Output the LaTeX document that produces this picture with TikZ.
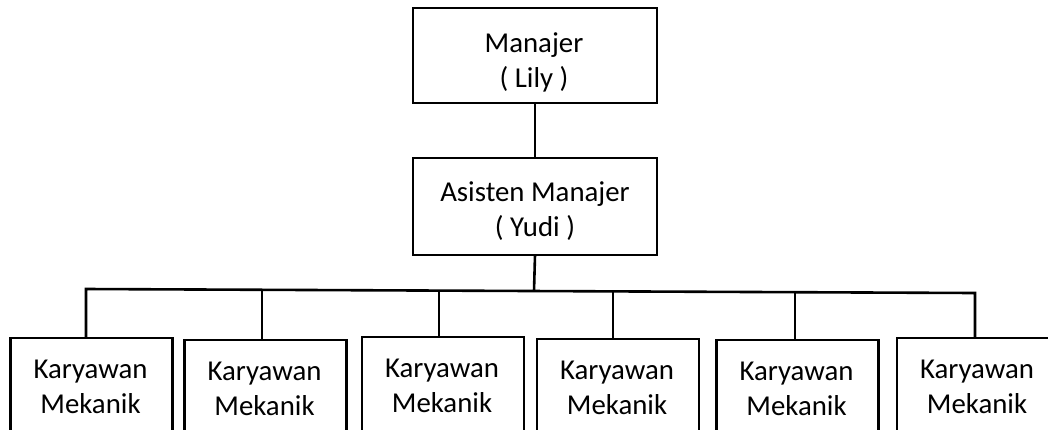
\documentclass[tikz,border=0pt]{standalone}
\usepackage{fontspec}
\setmainfont{Carlito}
\usetikzlibrary{calc}
\begin{document}
\begin{tikzpicture}[x=1pt,y=-1pt,
  box/.style={draw, line width=2.6pt, outer sep=0pt, inner sep=0pt, anchor=north},
  topbox/.style={box, minimum width=244pt},
  staffbox/.style={box, minimum width=162pt, minimum height=100pt},
  txt/.style={align=center, inner sep=0pt, anchor=north, font=\fontsize{28.8}{35}\selectfont},
  conn/.style={line width=2.6pt, line join=miter}]
\clip (0,0) rectangle (1048,429);
% boxes
\node[topbox, minimum height=95pt] (m) at (535,8) {};
\node[topbox, minimum height=97pt] (a) at (535,158) {};
\node[staffbox] (k1) at (91.5,338) {};
\node[staffbox] (k2) at (265.5,340) {};
\node[staffbox] (k3) at (443,337) {};
\node[staffbox] (k4) at (618,339) {};
\node[staffbox] (k5) at (797.5,340) {};
\node[staffbox] (k6) at (978,338) {};
% texts
\node[txt] (tm) at ($(m.north)+(-1,24)$) {Manajer\\( Lily )};
\node[txt] (ta) at ($(a.north)+(0,23)$) {Asisten Manajer\\( Yudi )};
\foreach \i in {1,...,6}{
  \node[txt] (tk\i) at ($(k\i.north)+(-1,22)$) {Karyawan\\Mekanik};
}
% connectors
\coordinate (busL) at (86,289);
\coordinate (busR) at (975,293);
\coordinate (aj) at (534,291);
\coordinate (d2) at (262,289.8);
\coordinate (d3) at (439,290.6);
\coordinate (d4) at (613,291.4);
\coordinate (d5) at (795,292.2);
\draw[conn] (m.south) -- (a.north);
\draw[conn] (a.south) -- (aj);
\draw[conn] (busL |- k1.north) -- (busL) -- (busR) -- (busR |- k6.north);
\draw[conn] (d2) -- (d2 |- k2.north);
\draw[conn] (d3) -- (d3 |- k3.north);
\draw[conn] (d4) -- (d4 |- k4.north);
\draw[conn] (d5) -- (d5 |- k5.north);
\end{tikzpicture}
\end{document}
